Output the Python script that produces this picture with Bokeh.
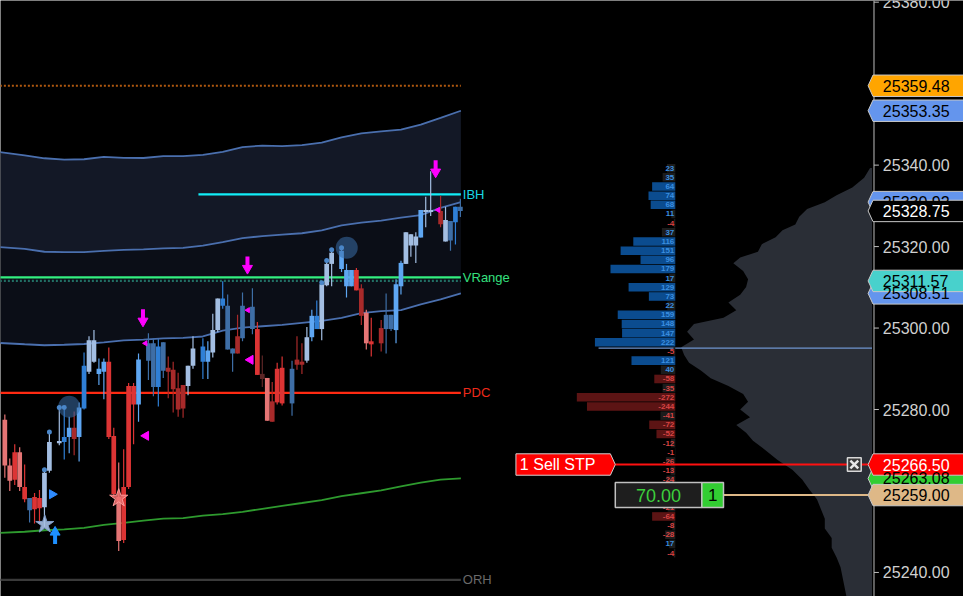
import numpy as np
from bokeh.plotting import figure
from bokeh.core.properties import value
from bokeh.embed import file_html
from bokeh.resources import INLINE

# ---------------- data ----------------
bar_index = [0, 1, 2, 3, 4, 5, 6, 7, 8, 9, 11, 12, 13, 14, 15, 16, 17, 18, 19, 20, 21, 22, 23, 24, 25, 26, 27,
             29, 30, 31, 32, 33, 34, 35, 36, 37, 38, 40, 41, 42, 43, 44, 45, 46, 47, 48, 50, 51, 52, 53, 54,
             55, 56, 58, 59, 60, 61, 62, 63, 64, 65, 66, 68, 69, 70, 71, 72, 73, 74, 76, 77, 78, 79, 80, 81,
             82, 83, 84, 85, 86, 88, 89, 90, 91, 92]
body_top = [25277.5, 25266.25, 25269.5, 25269.5, 25261.0, 25258.25, 25258.5, 25258.25, 25264.5, 25272.0,
            25272.25, 25273.25, 25275.5, 25275.5, 25280.5, 25290.75, 25297.0, 25297.0, 25290.0, 25291.75,
            25291.75, 25273.5, 25258.5, 25261.0, 25285.75, 25285.75, 25292.25,
            25296.25, 25296.25, 25295.5, 25296.5, 25290.25, 25289.75, 25285.25, 25286.0, 25290.75, 25295.0,
            25295.5, 25294.5, 25299.5, 25307.25, 25307.25, 25305.5, 25295.0, 25298.0, 25305.5,
            25305.25, 25299.75, 25288.75, 25287.75, 25282.0, 25290.0, 25290.25,
            25290.0, 25292.25, 25291.75, 25297.75, 25303.0, 25303.0, 25310.75, 25315.75, 25318.5,
            25319.0, 25314.25, 25314.25, 25314.25, 25309.75, 25303.75, 25296.75,
            25300.0, 25303.25, 25303.25, 25310.75, 25316.0, 25323.5, 25323.0, 25322.5, 25329.0, 25329.0, 25329.0,
            25328.75, 25326.5, 25326.25, 25329.75, 25329.75]
body_bottom = [25266.25, 25262.5, 25262.75, 25261.0, 25258.0, 25255.25, 25255.5, 25255.75, 25256.0, 25265.0,
               25271.75, 25272.0, 25273.25, 25272.75, 25273.25, 25280.25, 25289.25, 25291.75, 25288.75, 25289.25,
               25273.25, 25259.25, 25247.75, 25248.0, 25261.0, 25281.25, 25281.25,
               25292.0, 25285.5, 25285.5, 25289.5, 25289.25, 25285.0, 25280.0, 25280.25, 25285.75, 25290.75,
               25291.75, 25291.75, 25294.0, 25299.5, 25305.5, 25294.75, 25293.75, 25293.75, 25297.5,
               25299.75, 25288.5, 25287.5, 25277.25, 25277.0, 25281.75, 25281.5,
               25281.5, 25291.0, 25291.0, 25292.0, 25297.75, 25299.75, 25299.75, 25310.5, 25315.75,
               25314.5, 25310.25, 25310.25, 25309.25, 25303.0, 25296.25, 25296.0,
               25296.25, 25299.75, 25299.75, 25299.5, 25310.25, 25315.75, 25320.25, 25320.25, 25322.25, 25328.5, 25328.5,
               25325.5, 25321.25, 25321.5, 25326.0, 25328.75]
bar_high = [25278.75, 25268.0, 25271.5, 25270.75, 25266.5, 25258.25, 25259.5, 25260.25, 25265.25, 25274.5,
            25280.75, 25280.75, 25278.25, 25279.5, 25281.75, 25294.0, 25298.0, 25299.5, 25292.5, 25292.5,
            25295.25, 25275.5, 25267.0, 25270.25, 25286.5, 25286.5, 25293.75,
            25298.75, 25297.5, 25297.25, 25296.5, 25293.0, 25291.75, 25289.0, 25286.0, 25290.75, 25298.0,
            25297.5, 25296.75, 25303.5, 25307.25, 25311.5, 25308.25, 25295.0, 25303.25, 25308.75,
            25309.75, 25301.5, 25293.25, 25287.75, 25286.75, 25291.5, 25293.0,
            25292.0, 25298.0, 25296.25, 25300.25, 25304.5, 25306.75, 25311.25, 25316.5, 25319.5,
            25319.5, 25315.75, 25314.25, 25314.75, 25310.75, 25304.5, 25302.5,
            25302.0, 25308.5, 25303.25, 25312.0, 25316.5, 25323.5, 25323.0, 25323.5, 25329.0, 25332.25, 25338.5,
            25332.5, 25329.75, 25326.25, 25329.75, 25331.75]
bar_low = [25263.25, 25260.0, 25261.5, 25260.0, 25257.25, 25252.25, 25252.0, 25252.0, 25251.25, 25264.5,
           25271.25, 25267.75, 25269.25, 25268.75, 25267.25, 25280.0, 25288.75, 25291.5, 25286.0, 25282.5,
           25272.75, 25258.5, 25245.25, 25247.25, 25260.5, 25271.5, 25277.0,
           25287.25, 25283.25, 25280.75, 25287.75, 25282.75, 25279.25, 25278.25, 25278.0, 25283.5, 25290.0,
           25287.5, 25287.5, 25292.75, 25299.0, 25304.75, 25294.75, 25289.25, 25293.75, 25296.75,
           25298.5, 25288.5, 25285.5, 25277.25, 25277.0, 25281.25, 25281.0,
           25278.5, 25289.75, 25288.75, 25291.5, 25296.75, 25299.75, 25297.0, 25310.25, 25310.25,
           25313.75, 25307.5, 25310.25, 25309.25, 25300.75, 25294.75, 25293.0,
           25294.25, 25293.75, 25299.25, 25296.25, 25308.25, 25315.75, 25317.5, 25316.0, 25322.25, 25324.75, 25327.5,
           25324.75, 25321.25, 25319.0, 25320.5, 25327.25]
bar_shade = ["LR", "LR", "R", "LR", "R", "ST", "R", "R", "LB", "LB",
             "LB", "B", "SB", "DR", "SB", "B", "LB", "LB", "SB", "SB",
             "R", "R", "LR", "R", "R", "R", "SB",
             "ST", "ST", "B", "ST", "DR", "DR", "DR", "DR", "LB", "LB",
             "B", "SB", "LB", "LB", "B", "ST", "ST", "DR", "ST",
             "ST", "R", "DD", "LR", "DR", "R", "R",
             "ST", "DR", "DR", "LB", "SB", "B", "LB", "LB", "LB",
             "SB", "SB", "SB", "R", "DR", "LR", "R",
             "DR", "ST", "ST", "SB", "SB", "LB", "LB", "LB", "SB", "LB", "LB",
             "DR", "LB", "ST", "B", "ST"]

band_index = [-1, 4, 8, 12, 16, 20, 24, 28, 32, 36, 40, 44, 48, 52, 56, 60, 64, 68, 72, 76, 80, 84, 88, 92.1]
band_upper = [25343.19, 25342.40, 25341.68, 25341.37, 25341.44, 25342.04, 25341.80, 25341.75, 25342.23, 25342.23,
              25342.52, 25343.24, 25344.43, 25344.79, 25344.67, 25344.91, 25345.51, 25346.82, 25347.78, 25348.26,
              25348.73, 25349.93, 25351.60, 25353.35]
band_middle = [25319.86, 25319.45, 25318.73, 25318.66, 25318.66, 25318.97, 25319.21, 25319.33, 25319.57, 25319.69,
               25320.24, 25321.12, 25322.08, 25322.56, 25322.92, 25323.27, 25323.99, 25325.19, 25325.90, 25326.38,
               25327.10, 25327.70, 25329.49, 25330.92]
band_lower = [25296.33, 25296.02, 25295.78, 25295.90, 25296.09, 25296.50, 25296.98, 25297.15, 25297.46, 25297.58,
              25297.93, 25299.37, 25300.09, 25300.44, 25300.80, 25301.28, 25301.76, 25302.48, 25303.67, 25304.15,
              25304.39, 25305.82, 25307.02, 25308.51]
slow_avg = [25249.72, 25250.00, 25250.36, 25250.60, 25250.96, 25251.68, 25252.15, 25252.75, 25253.23, 25253.35,
            25253.95, 25254.31, 25254.90, 25255.62, 25256.34, 25257.05, 25257.77, 25258.73, 25259.45, 25260.16,
            25261.12, 25262.08, 25262.79, 25263.08]

level_names = ["", "IBH", "VRange", "", "PDC", "ORH"]
level_prices = [25359.48, 25332.84, 25312.45, 25311.57, 25284.07, 25238.20]
level_start = [-1, 39.1, -1, -1, -1, -1]

ladder_price = [25339.25, 25337.0, 25334.75, 25332.5, 25330.25, 25328.0, 25325.75, 25323.5, 25321.25, 25319.0,
                25316.75, 25314.5, 25312.25, 25310.0, 25307.75, 25305.5, 25303.25, 25301.0, 25298.75, 25296.5,
                25294.25, 25292.0, 25289.75, 25287.5, 25285.25, 25283.0, 25280.75, 25278.5, 25276.25, 25274.0,
                25271.75, 25269.5, 25267.25, 25265.0, 25262.75, 25260.5, 25258.25, 25256.0, 25253.75, 25251.5,
                25249.25, 25247.0, 25244.75]
ladder_delta = [23, 35, 64, 74, 68, 11, -4, 37, 116, 151, 96, 179, 17, 129, 73, 22, 159, 148, 147, 222,
                -5, 121, 40, -58, -35, -272, -244, -41, -72, -52, -12, -1, -26, -13, -24, -18, -9, -21,
                -64, -8, -28, 17, -4]

profile_price = [25339.3, 25336.9, 25334.5, 25332.6, 25330.9, 25329.25, 25327.3, 25325.4, 25324.0, 25322.3,
                 25320.6, 25318.75, 25317.3, 25315.9, 25314.0, 25312.0, 25310.1, 25308.2, 25306.3, 25304.4,
                 25302.5, 25301.0, 25299.1, 25297.2, 25295.3, 25293.4, 25291.5, 25289.6, 25287.65, 25285.75,
                 25283.8, 25281.9, 25280.0, 25278.1, 25276.2, 25274.3, 25272.35, 25269.96, 25267.6, 25265.2,
                 25262.8, 25260.4, 25258.0, 25255.6, 25253.2, 25250.8, 25248.45, 25246.05, 25243.7, 25241.3,
                 25238.9, 25236.5, 25234.1]
profile_vol = [2, 8, 20, 36, 48, 66, 74, 78, 91, 98, 112, 116, 134, 141, 131, 126, 128, 134, 146, 138,
               151, 181, 188, 181, 194, 191, 186, 174, 164, 146, 131, 126, 134, 124, 138, 128, 121, 108, 96, 81,
               71, 64, 56, 52, 48, 48, 41, 41, 36, 32, 30, 28, 26]
poc_price = 25295.07

axis_ticks = [25380, 25360, 25340, 25320, 25300, 25280, 25260, 25240]

tag_price = [25353.35, 25330.92, 25308.51, 25263.08, 25359.48, 25328.75, 25311.57, 25266.50, 25259.00]
tag_fill = ["#6495ed", "#6495ed", "#6495ed", "#32cd32", "#ffa500", "#000000", "#48d1cc", "#ff0000", "#deb887"]
tag_ink = ["#000000", "#000000", "#000000", "#000000", "#000000", "#ffffff", "#000000", "#ffffff", "#000000"]

order_stop = 25266.50
position_price = 25259.00
order_label = "1 Sell STP"
position_pnl = "70.00"
position_qty = "1"

arrow_down_x = [27.9, 49.0, 87.0]
arrow_down_tip = [25301.0, 25313.95, 25337.6]
tri_left_big_x = [28.5, 49.6]
tri_left_big_y = [25273.55, 25292.2]
tri_left_small_x = [28.4, 49.1, 87.5]
tri_left_small_y = [25296.25, 25304.4, 25329.0]
tri_right_x = [9.55]
tri_right_y = [25259.2]
arrow_up_x = [10.15]
arrow_up_tip = [25250.6]
star_buy = (8.07, 25251.8)
star_sell = (23.0, 25258.25)
bubble_x = [13.0, 69.05]
bubble_y = [25280.7, 25319.7]
dot_x = [8, 9, 11, 12, 64, 65, 66, 68]
dot_y = [25265.2, 25274.5, 25280.5, 25280.5, 25311.1, 25316.6, 25319.2, 25319.7]

# ---------------- layout helpers ----------------
PITCH = 5.034           # reference pixels per bar
OFF = 4.4               # reference pixel of bar 0
PX_PT = 4.183           # reference pixels per point


def X(px):
    return (px - OFF) / PITCH


def DY(px):
    return px / PX_PT


FONT = value("Liberation Sans")
SHADE = {"LR": "#e57575", "R": "#dc3434", "DR": "#a82a2a", "DD": "#5c2626",
         "LB": "#a3bee2", "SB": "#5ea6f2", "B": "#2f7fd6", "ST": "#3e6ea6"}

p = figure(width=963, height=596, x_range=(X(0), X(979)), y_range=(25234.1, 25380.41),
           output_backend="svg", toolbar_location=None,
           background_fill_color="#000000", border_fill_color="#000000",
           outline_line_color=None, min_border=0)
p.xaxis.visible = False
p.yaxis.visible = False
p.grid.visible = False

# bands
p.varea(x=band_index, y1=band_middle, y2=band_upper, fill_color="#131826")
p.varea(x=band_index, y1=band_lower, y2=band_middle, fill_color="#0b0e17")
for ys in (band_upper, band_middle, band_lower):
    p.line(band_index, ys, line_color="#4a6fae", line_width=1.8)
p.line(band_index, slow_avg, line_color="#2e9a2e", line_width=1.8)

# levels
level_color = ["#b0580f", "#12eef8", "#33ef80", "#226e64", "#ff2a12", "#3a3a3a"]
level_dash = ["2 2", "solid", "solid", "2 2", "solid", "solid"]
level_text_color = ["#000000", "#19d8e6", "#35e07f", "#000000", "#ee2a1a", "#6a6a6a"]
end_x = X(468)
for nm, pr, st, col, ds, tc in zip(level_names, level_prices, level_start, level_color, level_dash, level_text_color):
    p.segment(x0=[st], y0=[pr], x1=[end_x], y1=[pr], line_color=col, line_width=2.2, line_dash=ds)
    if nm:
        p.text(x=[X(470)], y=[pr], text=[nm], text_color=tc, text_font=FONT,
               text_font_size="13px", text_baseline="middle", text_align="left")

# right volume profile
ax_x = X(886)
prof_x2 = [ax_x - v / PITCH for v in profile_vol]
p.harea(x1=[ax_x] * len(profile_price), x2=prof_x2, y=profile_price, fill_color="#2a2e36")
p.segment(x0=[X(608)], y0=[poc_price], x1=[ax_x], y1=[poc_price], line_color="#6f95cf", line_width=1.2)

# delta ladder
lad_r = X(686)
lad_left = [lad_r - 0.368 * abs(v) / PITCH for v in ladder_delta]
lad_fill = ["#0b4c8f" if v >= 50 else ("#5c1414" if v <= -50 else "#1c1c1c") for v in ladder_delta]
lad_ink = ["#3b8fe0" if v > 0 else "#d84444" for v in ladder_delta]
p.hbar(y=ladder_price, left=lad_left, right=lad_r, height=2.1, fill_color=lad_fill, line_color=None)
p.text(x=[X(685)] * len(ladder_price), y=ladder_price, text=[str(v) for v in ladder_delta],
       text_color=lad_ink, text_font=FONT, text_font_size="8px", text_font_style="bold",
       text_align="right", text_baseline="middle")

# candles
cols = [SHADE[s] for s in bar_shade]
p.segment(x0=bar_index, y0=bar_low, x1=bar_index, y1=bar_high, line_color=cols, line_width=1.2)
p.vbar(x=bar_index, width=0.95, top=body_top, bottom=body_bottom, fill_color=cols, line_color=None)

# signal markers
p.scatter(x=bubble_x, y=bubble_y, size=22, marker="circle", fill_color="#3a6ea8", fill_alpha=0.55, line_color=None)
p.scatter(x=dot_x, y=dot_y, size=5, marker="circle", fill_color="#4a86c8", line_color=None)
mag = "#ff00ff"
p.segment(x0=arrow_down_x, y0=[t + DY(15) for t in arrow_down_tip], x1=arrow_down_x,
          y1=[t + DY(5) for t in arrow_down_tip], line_color=mag, line_width=4)
p.scatter(x=arrow_down_x, y=[t + DY(3) for t in arrow_down_tip], marker="inverted_triangle", size=10,
          fill_color=mag, line_color=mag)
p.scatter(x=tri_left_big_x, y=tri_left_big_y, marker="triangle", angle=np.pi / 2, size=9,
          fill_color=mag, line_color=mag)
p.scatter(x=tri_left_small_x, y=tri_left_small_y, marker="triangle", angle=np.pi / 2, size=5,
          fill_color=mag, line_color=mag)
p.scatter(x=tri_right_x, y=tri_right_y, marker="triangle", angle=-np.pi / 2, size=9,
          fill_color="#2f8cff", line_color="#2f8cff")
p.segment(x0=arrow_up_x, y0=[t - DY(4) for t in arrow_up_tip], x1=arrow_up_x,
          y1=[t - DY(15) for t in arrow_up_tip], line_color="#1e90ff", line_width=4)
p.scatter(x=arrow_up_x, y=[t - DY(3) for t in arrow_up_tip], marker="triangle", size=10,
          fill_color="#1e90ff", line_color="#1e90ff")
p.scatter(x=[star_buy[0]], y=[star_buy[1]], marker="star", size=19, fill_color="#a6c0e4",
          fill_alpha=0.9, line_color="#7f9bc8")
p.scatter(x=[star_sell[0]], y=[star_sell[1]], marker="star", size=19, fill_color="#f07070",
          fill_alpha=0.85, line_color="#ff9a9a")

# order / position lines
p.segment(x0=[X(625)], y0=[order_stop], x1=[X(882)], y1=[order_stop], line_color="#ff1010", line_width=2)
p.segment(x0=[X(735)], y0=[position_price], x1=[X(882)], y1=[position_price], line_color="#deb887", line_width=2)
h = DY(11)
p.patch(x=[X(524), X(620), X(625), X(620), X(524)],
        y=[order_stop + h, order_stop + h, order_stop, order_stop - h, order_stop - h],
        fill_color="#ff0000", line_color="#d0d0d0", line_width=1)
p.text(x=[X(528)], y=[order_stop], text=[order_label], text_color="#ffffff", text_font=FONT,
       text_font_size="16px", text_baseline="middle", text_align="left")
hb = DY(12.8)
p.quad(left=X(625), right=X(713), top=position_price + hb, bottom=position_price - hb,
       fill_color="#1e1e1e", line_color="#c0c0c0", line_width=1.5)
p.quad(left=X(713), right=X(735), top=position_price + hb, bottom=position_price - hb,
       fill_color="#32cd32", line_color="#c0c0c0", line_width=1.5)
p.text(x=[X(669)], y=[position_price], text=[position_pnl], text_color="#3ccf3c", text_font=FONT,
       text_font_size="18px", text_baseline="middle", text_align="center")
p.text(x=[X(724)], y=[position_price], text=[position_qty], text_color="#000000", text_font=FONT,
       text_font_size="17px", text_baseline="middle", text_align="center")
hx = DY(7)
p.quad(left=X(861), right=X(875), top=order_stop + hx, bottom=order_stop - hx,
       fill_color="#3a3a3a", line_color="#d8d8d8", line_width=1.5)
p.segment(x0=[X(864), X(864)], y0=[order_stop + DY(4), order_stop - DY(4)],
          x1=[X(872), X(872)], y1=[order_stop - DY(4), order_stop + DY(4)],
          line_color="#e8e8e8", line_width=2.5)

# price axis (drawn in the frame so tags can overlap it)
p.segment(x0=[X(888)], y0=[25234.1], x1=[X(888)], y1=[25380.41], line_color="#bdbdbd", line_width=1)
p.segment(x0=[X(888)] * len(axis_ticks), y0=axis_ticks, x1=[X(893)] * len(axis_ticks), y1=axis_ticks,
          line_color="#bdbdbd", line_width=1)
p.text(x=[X(897)] * len(axis_ticks), y=axis_ticks, text=[f"{t:.2f}" for t in axis_ticks],
       text_color="#d0d0d0", text_font=FONT, text_font_size="16px", text_baseline="middle", text_align="left")

# price tags
th = DY(11)
p.patches(xs=[[X(882), X(887), X(990), X(990), X(887)] for _ in tag_price],
          ys=[[t, t + th, t + th, t - th, t - th] for t in tag_price],
          fill_color=tag_fill, line_color="#c8c8c8", line_width=1)
p.text(x=[X(897)] * len(tag_price), y=tag_price, text=[f"{t:.2f}" for t in tag_price],
       text_color=tag_ink, text_font=FONT, text_font_size="16px", text_baseline="middle", text_align="left")

open("out.html", "w").write(file_html(p, INLINE))
